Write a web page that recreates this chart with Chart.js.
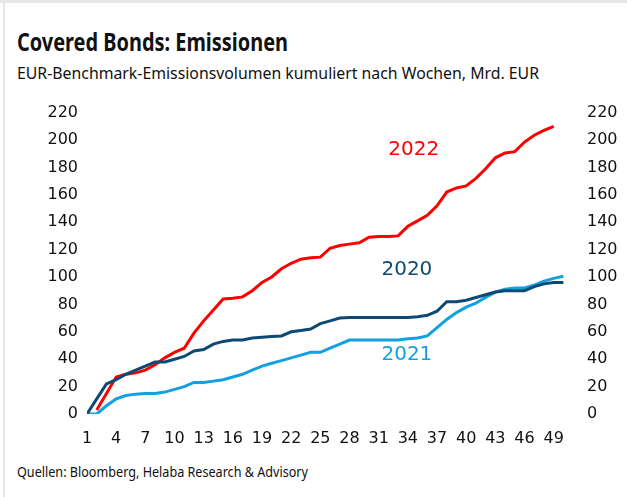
<!DOCTYPE html>
<html>
<head>
<meta charset="utf-8">
<script src="https://cdn.jsdelivr.net/npm/chart.js@4.4.1/dist/chart.umd.min.js"></script>
<style>
  html, body { margin: 0; padding: 0; background: #fff; }
  body { width: 627px; height: 497px; position: relative; overflow: hidden; font-family: "Noto Sans", sans-serif; color: #111; }
  .frame-top { position: absolute; left: 0; top: 0; width: 627px; height: 3px; background: #e6e6e6; }
  .frame-left { position: absolute; left: 3px; top: 0; width: 2px; height: 497px; background: #e6e6e6; }
  .txt { position: absolute; left: 17px; white-space: nowrap; line-height: 1; transform-origin: left top; }
  #title { top: 29px; font-size: 25px; font-weight: bold; }
  #subtitle { top: 65px; font-size: 16.5px; }
  #footer { top: 464px; font-size: 15px; }
  #wrap { position: absolute; left: 0; top: 94px; width: 627px; height: 363px; }
</style>
</head>
<body>
<div class="frame-top"></div>
<div class="frame-left"></div>
<div class="txt" id="title" data-w="271">Covered Bonds: Emissionen</div>
<div class="txt" id="subtitle" data-w="522">EUR-Benchmark-Emissionsvolumen kumuliert nach Wochen, Mrd. EUR</div>
<div class="txt" id="footer" data-w="291">Quellen: Bloomberg, Helaba Research &amp; Advisory</div>
<div id="wrap"><canvas id="chart"></canvas></div>
<script>
// Kalenderwochen
const weeks = [];
for (let w = 1; w <= 50; w++) weeks.push(w);

const xTicks = [1, 4, 7, 10, 13, 16, 19, 22, 25, 28, 31, 34, 37, 40, 43, 46, 49];
const yTicks = [0, 20, 40, 60, 80, 100, 120, 140, 160, 180, 200, 220];

// kumuliertes Emissionsvolumen, Mrd. EUR
const vol2020 = [0, 11, 22, 25, 29, 32, 35, 38, 38, 40, 42, 46, 47, 51, 53, 54, 54, 55.5, 56, 56.5,
  57, 60, 61, 62, 66, 68, 70, 70.5, 70.5, 70.5, 70.5, 70.5, 70.5, 70.5, 71, 72, 75, 82, 82, 83,
  85, 87, 89, 90, 90, 90, 93, 95, 96, 96];
const vol2021 = [0, 0, 6, 11, 13.5, 14.5, 15, 15, 16, 18, 20, 23, 23, 24, 25, 27, 29, 32, 35, 37,
  39, 41, 43, 45, 45, 48, 51, 54, 54, 54, 54, 54, 54, 55, 55.5, 57, 63, 69, 74, 78,
  81, 85, 89, 91, 92, 92, 94, 97, 99, 100.5];
const vol2022 = [null, 3, 15, 27, 29, 30, 32, 36, 41, 45, 48, 59, 68, 76, 84, 84.5, 85.5, 90, 96, 100,
  106, 110, 113, 114, 114.5, 121, 123, 124, 125, 129, 129.5, 129.5, 130, 137, 141, 145, 152, 162, 165, 166.5,
  172, 179, 187, 190.5, 191.5, 198.5, 203.5, 207, 210, null];

const seriesNames = ['2020', '2021', '2022'];

function toPoints(vals) {
    return weeks.map((w, i) => ({ x: w, y: vals[i] }));
}

// fit condensed-looking text to the reference widths
document.querySelectorAll('.txt').forEach(el => {
    const target = parseFloat(el.dataset.w);
    const w = el.getBoundingClientRect().width;
    el.style.transform = 'scaleX(' + (target / w) + ')';
});

// Jahreszahlen direkt an den Linien
const yearLabels = {
    id: 'yearLabels',
    afterDatasetsDraw(chart) {
        const ctx = chart.ctx;
        const xs = chart.scales.x, ys = chart.scales.y;
        const items = [
            { text: seriesNames[2], x: 34.6, y: 193, color: '#ff0000' },
            { text: seriesNames[0], x: 33.9, y: 105, color: '#0d4a73' },
            { text: seriesNames[1], x: 33.9, y: 43, color: '#12a0e0' }
        ];
        ctx.save();
        ctx.font = '20px "DejaVu Sans"';
        ctx.textAlign = 'center';
        ctx.textBaseline = 'middle';
        items.forEach(it => {
            ctx.fillStyle = it.color;
            ctx.fillText(it.text, xs.getPixelForValue(it.x), ys.getPixelForValue(it.y));
        });
        ctx.restore();
    }
};

const tickFont = { family: 'DejaVu Sans', size: 16 };

new Chart(document.getElementById('chart').getContext('2d'), {
    type: 'line',
    data: {
        datasets: [
            { label: seriesNames[0], data: toPoints(vol2020), borderColor: '#0d4a73', borderWidth: 3, pointRadius: 0, tension: 0 },
            { label: seriesNames[1], data: toPoints(vol2021), borderColor: '#12a0e0', borderWidth: 3, pointRadius: 0, tension: 0 },
            { label: seriesNames[2], data: toPoints(vol2022), borderColor: '#ff0000', borderWidth: 3, pointRadius: 0, tension: 0 }
        ]
    },
    options: {
        responsive: true,
        maintainAspectRatio: false,
        animation: false,
        layout: { padding: { top: 4, left: 0, right: 0, bottom: 0 } },
        plugins: {
            legend: { display: false },
            tooltip: { enabled: false }
        },
        scales: {
            x: {
                type: 'linear',
                min: 1,
                max: 51.5,
                grid: { display: false, drawTicks: false },
                border: { display: false },
                afterBuildTicks: axis => { axis.ticks = xTicks.map(v => ({ value: v })); },
                afterFit: axis => { axis.height = 43; },
                ticks: { color: '#111', font: tickFont, padding: 15, maxRotation: 0, autoSkip: false }
            },
            y: {
                position: 'left',
                min: 0,
                max: 220,
                grid: { display: false, drawTicks: false },
                border: { display: false },
                afterBuildTicks: axis => { axis.ticks = yTicks.map(v => ({ value: v })); },
                afterFit: axis => { axis.width = 87; },
                ticks: { color: '#111', font: tickFont, padding: 9 }
            },
            y2: {
                position: 'right',
                min: 0,
                max: 220,
                grid: { display: false, drawTicks: false },
                border: { display: false },
                afterBuildTicks: axis => { axis.ticks = yTicks.map(v => ({ value: v })); },
                afterFit: axis => { axis.width = 49; },
                ticks: { color: '#111', font: tickFont, padding: 9 }
            }
        }
    },
    plugins: [yearLabels]
});
</script>
</body>
</html>
